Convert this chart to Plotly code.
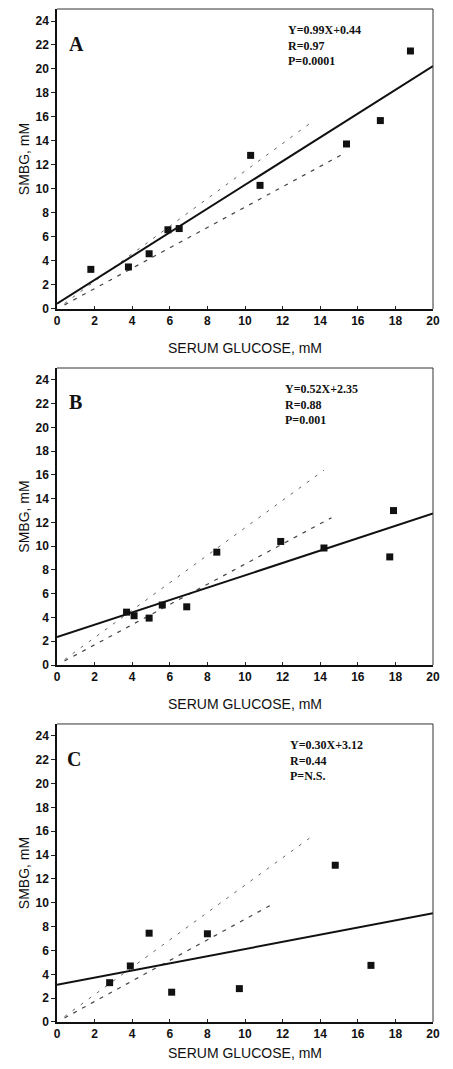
import plotly.graph_objects as go

# ---------------- data ----------------
panel_letters = ["A", "B", "C"]

a_serum = [1.8, 3.8, 4.9, 5.9, 6.5, 10.3, 10.8, 15.4, 17.2, 18.8]
a_smbg = [3.3, 3.5, 4.6, 6.6, 6.7, 12.8, 10.3, 13.75, 15.7, 21.5]

b_serum = [3.7, 4.1, 4.9, 5.6, 6.9, 8.5, 11.9, 14.2, 17.7, 17.9]
b_smbg = [4.45, 4.15, 3.95, 5.05, 4.9, 9.5, 10.4, 9.85, 9.1, 13.0]

c_serum = [2.8, 3.9, 4.9, 6.1, 8.0, 9.7, 14.8, 16.7]
c_smbg = [3.3, 4.7, 7.45, 2.5, 7.4, 2.8, 13.15, 4.75]

fit_x = [0, 20]
a_fit_y = [0.44, 20.24]
b_fit_y = [2.35, 12.75]
c_fit_y = [3.12, 9.12]

# +/- limit lines (dashed), endpoints per panel
upper_x = [[0.4, 13.4], [0.4, 14.2], [0.4, 13.5]]
upper_y = [[0.46, 15.4], [0.46, 16.4], [0.46, 15.5]]
lower_x = [[0.4, 15.2], [0.4, 14.6], [0.4, 11.6]]
lower_y = [[0.34, 12.9], [0.34, 12.4], [0.34, 10.0]]

stats_text = [
    "Y=0.99X+0.44<br>R=0.97<br>P=0.0001",
    "Y=0.52X+2.35<br>R=0.88<br>P=0.001",
    "Y=0.30X+3.12<br>R=0.44<br>P=N.S.",
]
stats_x = [12.2, 12.0, 12.3]
letter_x = [1.05, 1.0, 0.9]

x_ticks = list(range(0, 21, 2))
y_ticks = list(range(0, 25, 2))

# ---------------- figure ----------------
# page body has an 8px default margin, so the figure is 16px smaller
W, H = 437, 1053
domains = [[0.7039, 1.0], [0.3524, 0.6456], [0.0, 0.2942]]

fig = go.Figure()
serum = [a_serum, b_serum, c_serum]
smbg = [a_smbg, b_smbg, c_smbg]
fits = [a_fit_y, b_fit_y, c_fit_y]

tick_font = dict(family="Liberation Sans, Arial", size=12, color="#111111", weight="bold")
title_font = dict(family="Liberation Sans, Arial", size=14, color="#111111")

for i in range(3):
    xa = "x" if i == 0 else f"x{i+1}"
    ya = "y" if i == 0 else f"y{i+1}"
    fig.add_trace(go.Scatter(x=upper_x[i], y=upper_y[i], mode="lines",
                             line=dict(color="#666666", width=1, dash="3px,7px"),
                             xaxis=xa, yaxis=ya, showlegend=False, hoverinfo="skip"))
    fig.add_trace(go.Scatter(x=lower_x[i], y=lower_y[i], mode="lines",
                             line=dict(color="#444444", width=1.2, dash="4px,6px"),
                             xaxis=xa, yaxis=ya, showlegend=False, hoverinfo="skip"))
    fig.add_trace(go.Scatter(x=fit_x, y=fits[i], mode="lines",
                             line=dict(color="#111111", width=2),
                             xaxis=xa, yaxis=ya, showlegend=False, cliponaxis=False))
    fig.add_trace(go.Scatter(x=serum[i], y=smbg[i], mode="markers",
                             marker=dict(symbol="square", size=7, color="#111111"),
                             xaxis=xa, yaxis=ya, showlegend=False))

    xkey = "xaxis" if i == 0 else f"xaxis{i+1}"
    ykey = "yaxis" if i == 0 else f"yaxis{i+1}"
    fig.layout[xkey] = dict(
        domain=[0, 1], anchor=ya, range=[0, 20], automargin=False,
        tickvals=x_ticks, ticks="inside", ticklen=3, tickcolor="#222",
        showline=True, linecolor="#111111", linewidth=1.5, mirror=False,
        showgrid=False, zeroline=False, tickfont=tick_font,
        title=dict(text="SERUM GLUCOSE, mM", font=title_font, standoff=16),
    )
    fig.layout[ykey] = dict(
        domain=domains[i], anchor=xa, range=[0, 25], automargin=False,
        tickvals=y_ticks, ticks="outside", ticklen=4, tickcolor="#222",
        showline=True, linecolor="#111111", linewidth=1.5, mirror=False,
        showgrid=False, zeroline=False, tickfont=tick_font,
        title=dict(text="SMBG, mM", font=title_font, standoff=3),
    )
    # thin top/right frame
    fig.add_shape(type="line", xref=f"{xa} domain", yref=f"{ya} domain",
                  x0=0, x1=1, y0=1, y1=1, line=dict(color="#333333", width=1))
    fig.add_shape(type="line", xref=f"{xa} domain", yref=f"{ya} domain",
                  x0=1, x1=1, y0=0, y1=1, line=dict(color="#333333", width=1))
    fig.add_annotation(x=letter_x[i], y=22.1, xref=xa, yref=ya, text=f"<b>{panel_letters[i]}</b>",
                       showarrow=False, xanchor="center", yanchor="middle",
                       font=dict(family="Liberation Serif, Times New Roman", size=20, color="#111111"))
    fig.add_annotation(x=stats_x[i], y=24.0, xref=xa, yref=ya, text=f"<b>{stats_text[i]}</b>",
                       showarrow=False, xanchor="left", yanchor="top", align="left",
                       font=dict(family="Liberation Serif, Times New Roman", size=12, color="#111111"))

fig.update_layout(
    width=W, height=H,
    margin=dict(l=49, r=12, t=1, b=39),
    paper_bgcolor="white", plot_bgcolor="white",
    showlegend=False,
)

fig.write_html("out.html")
